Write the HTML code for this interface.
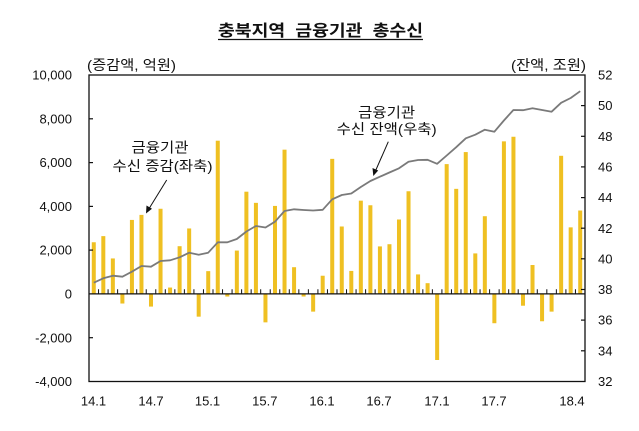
<!DOCTYPE html>
<html><head><meta charset="utf-8"><style>
html,body{margin:0;padding:0;background:#fff;}
svg{display:block;}
.n{font-family:"Liberation Sans","Noto Sans CJK KR",sans-serif;font-size:13px;fill:#111;}
.k{font-family:"Liberation Sans","Noto Sans CJK KR",sans-serif;font-size:14px;fill:#111;}
</style></head><body>
<svg width="639" height="431" viewBox="0 0 639 431" xmlns="http://www.w3.org/2000/svg">
<rect width="639" height="431" fill="#fff"/>
<!-- title -->
<text x="320.5" y="36" text-anchor="middle" class="k" style="font-size:16px;font-weight:bold;white-space:pre" textLength="205" lengthAdjust="spacingAndGlyphs">충북지역  금융기관  총수신</text>
<line x1="218" y1="39.5" x2="423" y2="39.5" stroke="#111" stroke-width="1.2"/>
<!-- unit labels -->
<text x="87" y="70" class="k" textLength="89" lengthAdjust="spacingAndGlyphs">(증감액, 억원)</text>
<text x="511" y="70" class="k" textLength="75" lengthAdjust="spacingAndGlyphs">(잔액, 조원)</text>

<!-- bars -->
<g fill="#EFC022" transform="translate(91.77,293.9) scale(9.538,-0.021886)">
<rect x="0" y="0" width="0.42" height="2360"/>
<rect x="1" y="0" width="0.42" height="2640"/>
<rect x="2" y="0" width="0.42" height="1620"/>
<rect x="3" y="-440" width="0.42" height="440"/>
<rect x="4" y="0" width="0.42" height="3380"/>
<rect x="5" y="0" width="0.42" height="3610"/>
<rect x="6" y="-580" width="0.42" height="580"/>
<rect x="7" y="0" width="0.42" height="3890"/>
<rect x="8" y="0" width="0.42" height="290"/>
<rect x="9" y="0" width="0.42" height="2180"/>
<rect x="10" y="0" width="0.42" height="2990"/>
<rect x="11" y="-1040" width="0.42" height="1040"/>
<rect x="12" y="0" width="0.42" height="1040"/>
<rect x="13" y="0" width="0.42" height="7000"/>
<rect x="14" y="-120" width="0.42" height="120"/>
<rect x="15" y="0" width="0.42" height="1980"/>
<rect x="16" y="0" width="0.42" height="4670"/>
<rect x="17" y="0" width="0.42" height="4160"/>
<rect x="18" y="-1300" width="0.42" height="1300"/>
<rect x="19" y="0" width="0.42" height="4020"/>
<rect x="20" y="0" width="0.42" height="6590"/>
<rect x="21" y="0" width="0.42" height="1220"/>
<rect x="22" y="-120" width="0.42" height="120"/>
<rect x="23" y="-810" width="0.42" height="810"/>
<rect x="24" y="0" width="0.42" height="830"/>
<rect x="25" y="0" width="0.42" height="6170"/>
<rect x="26" y="0" width="0.42" height="3080"/>
<rect x="27" y="0" width="0.42" height="1050"/>
<rect x="28" y="0" width="0.42" height="4260"/>
<rect x="29" y="0" width="0.42" height="4050"/>
<rect x="30" y="0" width="0.42" height="2170"/>
<rect x="31" y="0" width="0.42" height="2270"/>
<rect x="32" y="0" width="0.42" height="3400"/>
<rect x="33" y="0" width="0.42" height="4690"/>
<rect x="34" y="0" width="0.42" height="890"/>
<rect x="35" y="0" width="0.42" height="490"/>
<rect x="36" y="-3020" width="0.42" height="3020"/>
<rect x="37" y="0" width="0.42" height="5930"/>
<rect x="38" y="0" width="0.42" height="4800"/>
<rect x="39" y="0" width="0.42" height="6480"/>
<rect x="40" y="0" width="0.42" height="1850"/>
<rect x="41" y="0" width="0.42" height="3550"/>
<rect x="42" y="-1340" width="0.42" height="1340"/>
<rect x="43" y="0" width="0.42" height="6970"/>
<rect x="44" y="0" width="0.42" height="7180"/>
<rect x="45" y="-540" width="0.42" height="540"/>
<rect x="46" y="0" width="0.42" height="1320"/>
<rect x="47" y="-1250" width="0.42" height="1250"/>
<rect x="48" y="-810" width="0.42" height="810"/>
<rect x="49" y="0" width="0.42" height="6310"/>
<rect x="50" y="0" width="0.42" height="3040"/>
<rect x="51" y="0" width="0.42" height="3810"/>
</g>

<!-- line -->
<polyline fill="none" stroke="#7a7a7a" stroke-width="1.8" stroke-linejoin="round" points="
93.8,282.7 103.3,278.3 112.8,275.7 122.4,276.7 131.9,271.7 141.5,266 151.0,266.7 160.5,261 170.1,260.3 179.6,257.3
189.2,252.7 198.7,254.7 208.2,252.7 217.8,242.3 227.3,242.3 236.8,239 246.4,231.5 255.9,226 265.5,227.5 275.0,221.7
284.5,211 294.1,209.3 303.6,210 313.1,210.5 322.7,209.8 332.2,199.3 341.8,195 351.3,193.5 360.8,187 370.4,181
379.9,176.7 389.4,172.5 399.0,168.3 408.5,161.7 418.1,160 427.6,159.8 437.1,163.8 446.7,155.5 456.2,147.2 465.8,138.3
475.3,134.7 484.8,129.7 494.4,131.7 503.9,120.5 513.4,110 523.0,110.2 532.5,108.3 542.1,110 551.6,111.7 561.1,102.8
570.7,98 580.2,91.2"/>

<!-- frame -->
<rect x="89" y="75" width="496" height="306.5" fill="none" stroke="#111" stroke-width="1.3"/>
<!-- zero line -->
<line x1="89" y1="293.9" x2="585" y2="293.9" stroke="#111" stroke-width="1.3"/>
<!-- category ticks -->
<line x1="98.04" y1="291.6" x2="585" y2="291.6" stroke="#111" stroke-width="4.6" stroke-dasharray="1 8.538"/>
<!-- left ticks -->
<g stroke="#111" stroke-width="1.2">
<line x1="89" y1="118.8" x2="93" y2="118.8"/>
<line x1="89" y1="162.6" x2="93" y2="162.6"/>
<line x1="89" y1="206.4" x2="93" y2="206.4"/>
<line x1="89" y1="250.1" x2="93" y2="250.1"/>
<line x1="89" y1="337.7" x2="93" y2="337.7"/>
<!-- right ticks -->
<line x1="581" y1="105.6" x2="585" y2="105.6"/>
<line x1="581" y1="136.3" x2="585" y2="136.3"/>
<line x1="581" y1="166.9" x2="585" y2="166.9"/>
<line x1="581" y1="197.6" x2="585" y2="197.6"/>
<line x1="581" y1="228.2" x2="585" y2="228.2"/>
<line x1="581" y1="258.8" x2="585" y2="258.8"/>
<line x1="581" y1="289.5" x2="585" y2="289.5"/>
<line x1="581" y1="320.1" x2="585" y2="320.1"/>
<line x1="581" y1="350.8" x2="585" y2="350.8"/>
</g>

<!-- left labels -->
<g class="n" text-anchor="end">
<text x="72" y="79.6">10,000</text>
<text x="72" y="123.4">8,000</text>
<text x="72" y="167.2">6,000</text>
<text x="72" y="211">4,000</text>
<text x="72" y="254.7">2,000</text>
<text x="72" y="298.5">0</text>
<text x="72" y="342.3">-2,000</text>
<text x="72" y="386.1">-4,000</text>
</g>
<!-- right labels -->
<g class="n">
<text x="598" y="79.6">52</text>
<text x="598" y="110.2">50</text>
<text x="598" y="140.9">48</text>
<text x="598" y="171.5">46</text>
<text x="598" y="202.2">44</text>
<text x="598" y="232.8">42</text>
<text x="598" y="263.4">40</text>
<text x="598" y="294.1">38</text>
<text x="598" y="324.7">36</text>
<text x="598" y="355.4">34</text>
<text x="598" y="386">32</text>
</g>
<!-- x labels -->
<g class="n" text-anchor="middle">
<text x="93.5" y="405.5">14.1</text>
<text x="151" y="405.5">14.7</text>
<text x="207.5" y="405.5">15.1</text>
<text x="264.8" y="405.5">15.7</text>
<text x="322" y="405.5">16.1</text>
<text x="379" y="405.5">16.7</text>
<text x="437" y="405.5">17.1</text>
<text x="494" y="405.5">17.7</text>
<text x="572" y="405.5">18.4</text>
</g>

<!-- annotations -->
<text x="160" y="152.5" class="k" text-anchor="middle" textLength="57" lengthAdjust="spacingAndGlyphs">금융기관</text>
<text x="162.5" y="171" class="k" text-anchor="middle" textLength="100" lengthAdjust="spacingAndGlyphs">수신 증감(좌축)</text>
<line x1="166.7" y1="180" x2="148.5" y2="209.5" stroke="#111" stroke-width="1"/>
<polygon points="146,213.5 146.5,205.5 152,208.8" fill="#111"/>

<text x="386.7" y="117.5" class="k" text-anchor="middle" textLength="57" lengthAdjust="spacingAndGlyphs">금융기관</text>
<text x="386.7" y="134" class="k" text-anchor="middle" textLength="100" lengthAdjust="spacingAndGlyphs">수신 잔액(우축)</text>
<line x1="388.3" y1="141.7" x2="375" y2="172" stroke="#111" stroke-width="1"/>
<polygon points="373.3,176 372.5,168 378.2,170.5" fill="#111"/>
</svg>
</body></html>
